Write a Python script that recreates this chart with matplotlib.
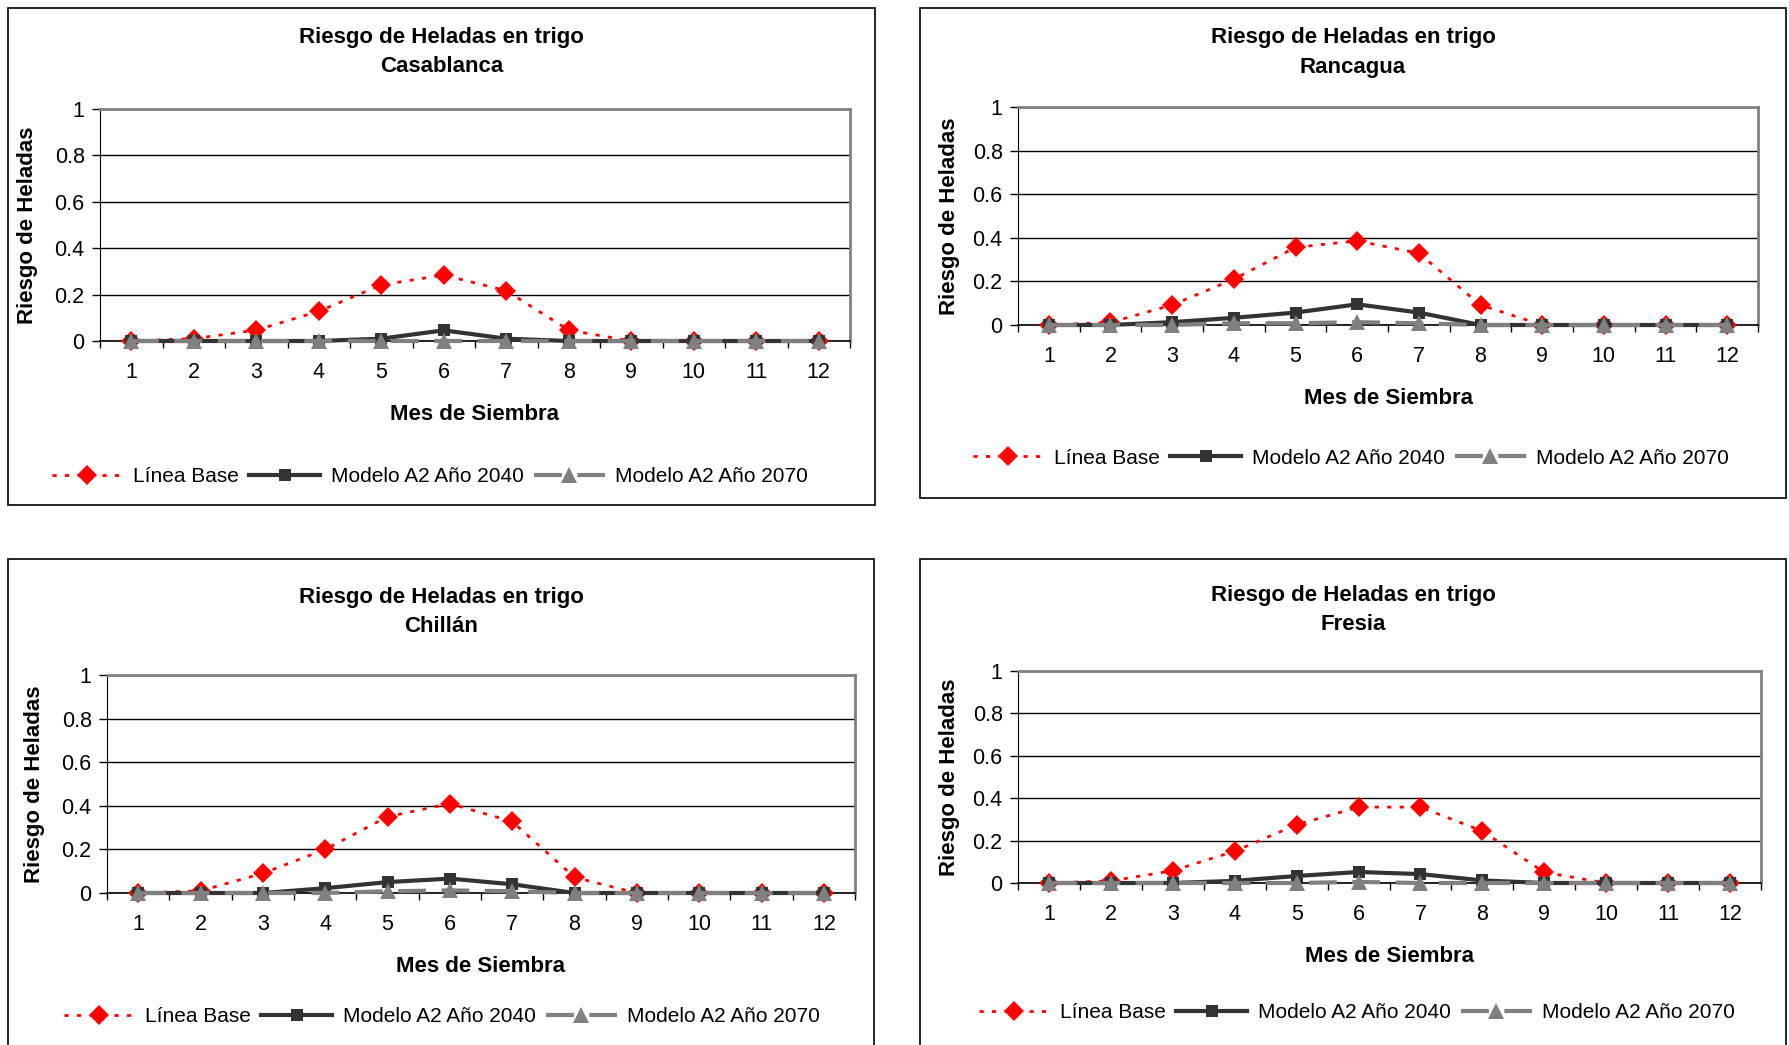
import matplotlib
matplotlib.use("Agg")
import matplotlib.pyplot as plt
from matplotlib.patches import Rectangle

plt.rcParams["font.family"] = ["Liberation Sans", "DejaVu Sans"]

# Data
months = [1, 2, 3, 4, 5, 6, 7, 8, 9, 10, 11, 12]
stations = ["Casablanca", "Rancagua", "Chillán", "Fresia"]

base_casablanca = [0, 0.01, 0.047, 0.128, 0.242, 0.284, 0.217, 0.047, 0, 0, 0, 0]
a2040_casablanca = [0, 0, 0, 0, 0.01, 0.046, 0.01, 0, 0, 0, 0, 0]
a2070_casablanca = [0, 0, 0, 0, 0, 0, 0, 0, 0, 0, 0, 0]

base_rancagua = [0, 0.012, 0.092, 0.21, 0.356, 0.386, 0.329, 0.092, 0, 0, 0, 0]
a2040_rancagua = [0, 0, 0.013, 0.033, 0.057, 0.095, 0.057, 0, 0, 0, 0, 0]
a2070_rancagua = [0, 0, 0, 0.008, 0.008, 0.013, 0.008, 0, 0, 0, 0, 0]

base_chillan = [0, 0.01, 0.09, 0.2, 0.35, 0.41, 0.328, 0.072, 0, 0, 0, 0]
a2040_chillan = [0, 0, 0, 0.022, 0.05, 0.066, 0.04, 0, 0, 0, 0, 0]
a2070_chillan = [0, 0, 0, 0, 0.008, 0.012, 0.008, 0, 0, 0, 0, 0]

base_fresia = [0, 0.01, 0.058, 0.15, 0.275, 0.358, 0.358, 0.245, 0.05, 0, 0, 0]
a2040_fresia = [0, 0, 0, 0.01, 0.033, 0.052, 0.042, 0.012, 0, 0, 0, 0]
a2070_fresia = [0, 0, 0, 0, 0, 0.005, 0, 0, 0, 0, 0, 0]

base_all = [base_casablanca, base_rancagua, base_chillan, base_fresia]
a2040_all = [a2040_casablanca, a2040_rancagua, a2040_chillan, a2040_fresia]
a2070_all = [a2070_casablanca, a2070_rancagua, a2070_chillan, a2070_fresia]

yticks = [0, 0.2, 0.4, 0.6, 0.8, 1]
ytick_labels = ["0", "0.2", "0.4", "0.6", "0.8", "1"]

W, H = 1789, 1045
fig = plt.figure(figsize=(W / 100, H / 100), dpi=100)

# layout in pixels (from top-left): chart box, plot area, text rows
boxes = [(8, 8, 875, 505), (920, 8, 1786, 498), (8, 559, 874, 1060), (920, 559, 1786, 1060)]
plots = [(100, 109, 850, 341), (1018, 107, 1758, 325), (107, 675, 855, 893), (1018, 671, 1761, 883)]
title_y = [(37, 67), (37, 67), (597, 626), (595, 624)]
xlabel_y = [415, 398, 967, 957]
ylabel_x = [28, 949, 35, 949]
legend_pos = [(430, 477), (1351, 458), (442, 1017), (1357, 1013)]

FS = 15.5
FSB = 16
FSL = 15


def fx(px):
    return px / W


def fy(py):
    return 1 - py / H


for i, st in enumerate(stations):
    bx0, by0, bx1, by1 = boxes[i]
    fig.patches.append(Rectangle((fx(bx0), fy(by1)), fx(bx1 - bx0), (by1 - by0) / H,
                                 transform=fig.transFigure, fill=False,
                                 edgecolor="black", linewidth=1.2))

    l, t, r, b = plots[i]
    ax = fig.add_axes([fx(l), fy(b), fx(r - l), (b - t) / H])

    ax.plot(months, base_all[i], color="#FF0000", linestyle=(0, (1.5, 3)), linewidth=2,
            marker="D", markersize=10, markeredgewidth=0, label="Línea Base", clip_on=False, zorder=3)
    ax.plot(months, a2040_all[i], color="#333333", linewidth=3, marker="s", markersize=9,
            markeredgewidth=0, label="Modelo A2 Año 2040", clip_on=False, zorder=4)
    ax.plot(months, a2070_all[i], color="#808080", linestyle=(0, (6.7, 3.7)), linewidth=3,
            marker="^", markersize=12, markeredgewidth=0, label="Modelo A2 Año 2070",
            clip_on=False, zorder=5)

    ax.set_xlim(0.5, 12.5)
    ax.set_ylim(0, 1)
    ax.set_yticks(yticks)
    ax.set_yticklabels(ytick_labels)
    ax.set_xticks([m - 0.5 for m in months] + [12.5])
    ax.set_xticklabels([])
    ax.set_xticks(months, minor=True)
    ax.set_xticklabels([str(m) for m in months], minor=True)
    ax.tick_params(axis="x", which="major", direction="out", length=5, width=1, color="black")
    ax.tick_params(axis="x", which="minor", length=0, pad=15, labelsize=FS)
    ax.tick_params(axis="y", direction="out", length=6, width=1, pad=5, labelsize=FS)

    ax.grid(axis="y", color="black", linewidth=1)
    ax.set_axisbelow(True)
    ax.spines["left"].set_color("black")
    ax.spines["bottom"].set_color("black")
    ax.spines["bottom"].set_linewidth(1.2)
    ax.spines["top"].set_color("#808080")
    ax.spines["right"].set_color("#808080")
    ax.spines["top"].set_linewidth(2)
    ax.spines["right"].set_linewidth(2)

    cx = (bx0 + bx1) / 2
    fig.text(fx(cx), fy(title_y[i][0]), "Riesgo de Heladas en trigo", ha="center", va="center",
             fontsize=FSB, fontweight="bold")
    fig.text(fx(cx), fy(title_y[i][1]), st, ha="center", va="center",
             fontsize=FSB, fontweight="bold")
    fig.text(fx((l + r) / 2), fy(xlabel_y[i]), "Mes de Siembra", ha="center", va="center",
             fontsize=FSB, fontweight="bold")
    fig.text(fx(ylabel_x[i]), fy((t + b) / 2), "Riesgo de Heladas", ha="center", va="center",
             rotation=90, fontsize=FSB, fontweight="bold")

    lx, ly = legend_pos[i]
    ax.legend(loc="center", bbox_to_anchor=(fx(lx), fy(ly)), bbox_transform=fig.transFigure,
              ncol=3, frameon=False, fontsize=FSL, handlelength=3.4, handletextpad=0.5,
              columnspacing=0.5, borderaxespad=0)

fig.savefig("out.png", dpi=100)
